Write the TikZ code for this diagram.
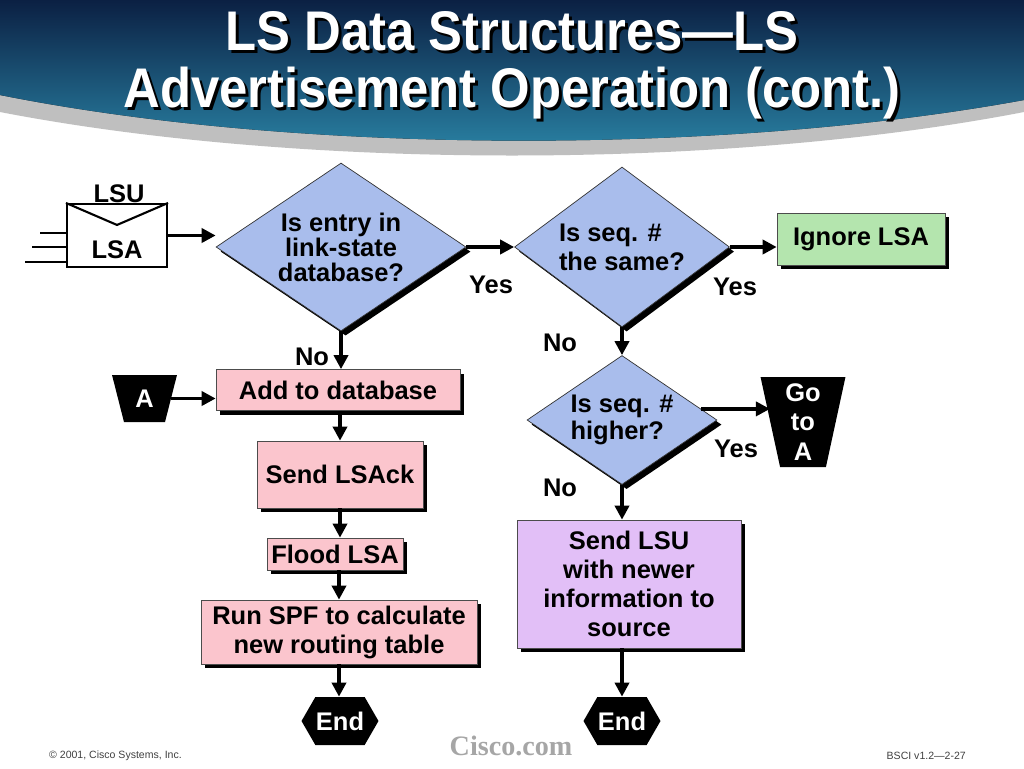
\documentclass[tikz,border=0pt]{standalone}
\usepackage{fontspec}
\setmainfont{Liberation Sans}
\newfontfamily\titlefont[UprightFont=* Bold, FakeStretch=0.91]{Liberation Sans}
\newfontfamily\ciscofont{Liberation Serif}
\usetikzlibrary{arrows.meta,shapes.geometric,shapes.symbols,shadows,calc}

\definecolor{qblue}{HTML}{A9BDEC}
\definecolor{boxpink}{HTML}{FBC5CD}
\definecolor{boxgreen}{HTML}{B4E5AE}
\definecolor{boxpurple}{HTML}{E2BFF7}
\definecolor{bannertop}{HTML}{0B2043}
\definecolor{bannerbot}{HTML}{2A84A6}

\begin{document}
\begin{tikzpicture}[x=0.02cm, y=-0.02cm,
  decision/.style={diamond, draw=black!80, fill=qblue, inner sep=0pt,
    font=\bfseries\fontsize{14.5}{14.2}\selectfont, align=center,
    drop shadow={shadow xshift=2.6pt, shadow yshift=-2.6pt, opacity=1, fill=black}},
  process/.style={rectangle, draw=black!70, inner sep=2pt, align=center,
    font=\bfseries\fontsize{14.5}{16.5}\selectfont,
    drop shadow={shadow xshift=2.3pt, shadow yshift=-2.3pt, opacity=1, fill=black}},
  terminal/.style={signal, signal to=west and east, signal pointer angle=120,
    fill=black, text=white, inner sep=0pt, minimum width=1.54cm, minimum height=0.96cm,
    font=\bfseries\fontsize{14.5}{16.5}\selectfont},
  connector/.style={trapezium, trapezium stretches=true, fill=black, text=white,
    inner sep=0pt, align=center, font=\bfseries\fontsize{14.5}{17}\selectfont},
  answer/.style={font=\bfseries\fontsize{14.5}{16.5}\selectfont},
  titletext/.style={anchor=base, font=\titlefont\fontsize{31.8}{32.4}\selectfont},
  pointer/.style={draw, -{Triangle[length=8pt, width=8pt]}, line width=2.1pt},
  envline/.style={line width=1.2pt}
]

% Background and banner
\fill[white] (0,0) rectangle (1024,768);
\useasboundingbox (0,0) rectangle (1024,768);
\fill[black!25] (0,95) .. controls (300,155) and (724,155) .. (1024,100)
  -- (1024,112) .. controls (724,170) and (300,170) .. (0,112) -- cycle;
\fill[top color=bannertop, bottom color=bannerbot] (0,0) -- (1024,0) -- (1024,100)
  .. controls (724,155) and (300,155) .. (0,95) -- cycle;

% Title
\node[titletext, text=black] (title1s) at (515,53) {LS Data Structures—LS};
\node[titletext, text=white] (title1) at (512,50) {LS Data Structures—LS};
\node[titletext, text=black] (title2s) at (515,110) {Advertisement Operation (cont.)};
\node[titletext, text=white] (title2) at (512,107) {Advertisement Operation (cont.)};

% Envelope
\node[draw, envline, fill=white, minimum width=2cm, minimum height=1.26cm] (env) at (117,235.5) {};
\draw[envline] (env.north west) -- ($(env.north)+(0,22)$) -- (env.north east);
\node[answer] (lsu) at (119,194) {LSU};
\node[answer] (lsa) at (117,250) {LSA};
\foreach \x/\y in {40/233, 32/247, 25/262}
  \draw[envline, line width=1.6pt] (\x,\y) -- (67,\y);

% Decisions
\node[decision, aspect=1.49, minimum width=5cm, minimum height=3.36cm] (entry) at (341,247)
  {Is entry in\\link-state\\database?};
\node[decision, aspect=1.34, align=left, minimum width=4.3cm, minimum height=3.2cm,
  font=\bfseries\fontsize{14.5}{16.5}\selectfont] (same) at (622,247)
  {Is seq. \#\\the same?};
\node[decision, aspect=1.47, align=left, minimum width=3.8cm, minimum height=2.58cm,
  font=\bfseries\fontsize{14.5}{15.5}\selectfont] (higher) at (622,420)
  {Is seq. \#\\higher?};

% Processes
\node[process, fill=boxgreen, minimum width=3.36cm, minimum height=1.04cm] (ignore) at (861,239) {Ignore LSA};
\node[process, fill=boxpink, minimum width=4.88cm, minimum height=0.82cm] (add) at (338,390) {Add to database};
\node[process, fill=boxpink, minimum width=3.32cm, minimum height=1.34cm] (ack) at (340,474.5) {Send LSAck};
\node[process, fill=boxpink, minimum width=2.72cm, minimum height=0.64cm] (flood) at (335,554) {Flood LSA};
\node[process, fill=boxpink, minimum width=5.52cm, minimum height=1.28cm] (spf) at (339,632)
  {Run SPF to calculate\\new routing table};
\node[process, fill=boxpurple, minimum width=4.48cm, minimum height=2.56cm] (send) at (629,584)
  {Send LSU\\with newer\\information to\\source};

% Connectors and ends
\node[connector, trapezium left angle=107, trapezium right angle=107,
  minimum width=1.3cm, minimum height=0.94cm] (ina) at (144.5,398.5) {A};
\node[connector, trapezium left angle=101, trapezium right angle=101,
  minimum width=1.7cm, minimum height=1.8cm] (goa) at (803,422) {Go\\to\\A};
\node[terminal] (endl) at (340,721) {End};
\node[terminal] (endr) at (622,721) {End};

% Answers
\node[answer] (yes1) at (491,285) {Yes};
\node[answer] (yes2) at (735,287) {Yes};
\node[answer] (yes3) at (736,449) {Yes};
\node[answer] (no1) at (312,357) {No};
\node[answer] (no2) at (560,343) {No};
\node[answer] (no3) at (560,488) {No};

% Arrows
\draw[pointer] (env.east) -- (env.east -| entry.west);
\draw[pointer] (entry.east) -- (same.west);
\draw[pointer] (same.east) -- (same.east -| ignore.west);
\draw[pointer] (same.south) -- (higher.north);
\draw[pointer] (higher.8) -- (higher.8 -| goa.west);
\draw[pointer] (higher.south) -- (higher.south |- send.north);
\draw[pointer] (send.south -| endr.north) -- (endr.north);
\draw[pointer] (entry.south) -- (entry.south |- add.north);
\draw[pointer] (ina.east) -- (ina.east -| add.west);
\draw[pointer] (ack.north |- add.south) -- (ack.north);
\draw[pointer] (ack.south) -- (ack.south |- flood.north);
\draw[pointer] (spf.north |- flood.south) -- (spf.north);
\draw[pointer] (spf.south) -- (spf.south |- endl.north);

% Footer
\node[anchor=west, text=black!75, font=\fontsize{6}{7}\selectfont] (copy) at (43,756) {© 2001, Cisco Systems, Inc.};
\node[text=black!35, font=\ciscofont\bfseries\fontsize{16}{18}\selectfont] (cisco) at (511,746) {Cisco.com};
\node[anchor=east, text=black!75, font=\fontsize{6}{7}\selectfont] (slide) at (972,756) {BSCI v1.2—2-27};

\end{tikzpicture}
\end{document}
